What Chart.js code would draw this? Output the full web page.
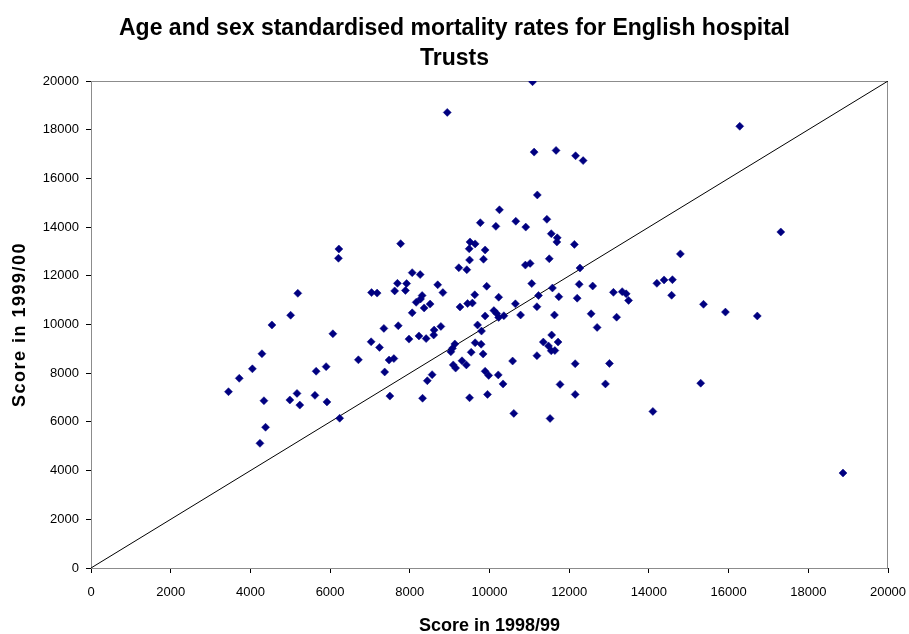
<!DOCTYPE html>
<html>
<head>
<meta charset="utf-8">
<script src="https://cdn.jsdelivr.net/npm/chart.js@4/dist/chart.umd.min.js"></script>
<style>
  body { margin: 0; background: #fff; }
  #wrap { width: 909px; height: 634px; }
</style>
</head>
<body>
<div id="wrap"><canvas id="mortality" width="909" height="634"></canvas></div>
<script>
// scores, one entry per Trust
var score9899 = [
  11080, 8940, 16280, 11120, 11670, 12160, 12350, 11200, 10250, 9770,
  10160, 10660, 10910, 11440, 7770, 9510, 9640, 9490, 9890, 9850,
  9500, 11550, 11700, 11690, 12130, 11500, 10900, 11020, 9230, 9430,
  12270, 8060, 8260, 7690, 7920, 7620, 7890, 7040, 7180, 8700,
  8830, 9930, 11060, 12250, 12590, 11580, 11230, 11740, 12200, 9630,
  10230, 8310, 8270, 8160, 8510, 8360, 8060, 9260, 9450, 9570,
  10650, 11190, 10110, 10180, 10230, 10360, 9890, 10780, 11630, 12550,
  13190, 13110, 13330, 13430, 13490, 14200, 14380, 14590, 14570, 14790,
  15370, 15920, 16720, 17310, 7350, 7710, 8610, 8780, 9700, 9800,
  12700, 6220, 6210, 5190, 5010, 4540, 6070, 7030, 7240, 6710,
  4290, 4050, 3720, 3450, 5900, 5650, 5170, 4990, 5240, 5620,
  5920, 4340, 6240, 4380, 4240, 7980, 8230, 8410, 8600, 7480,
  7600, 7370, 7500, 8320, 8440, 8560, 9030, 9070, 9130, 9090,
  9150, 9310, 9420, 9540, 9640, 9790, 9840, 9890, 9980, 10220,
  10340, 9500, 9950, 10580, 10610, 11190, 11350, 11560, 11480, 11550,
  11640, 11720, 11770, 11520, 12150, 12150, 13010, 12910, 14100, 15300,
  18870
];
var score9900 = [
  19970, 18710, 18140, 17080, 17150, 16930, 16730, 15320, 14710, 14180,
  14030, 14240, 14000, 14320, 13320, 13390, 13310, 13110, 13060, 12680,
  12650, 13730, 13560, 13390, 13290, 12700, 12440, 12510, 12330, 12250,
  12320, 12130, 12050, 11690, 11680, 11380, 11400, 11310, 11290, 11630,
  11310, 11570, 11680, 11650, 11580, 11500, 11190, 11140, 11080, 11220,
  11120, 11190, 11050, 10910, 10840, 10680, 10480, 10720, 10860, 10880,
  10850, 10730, 10570, 10450, 10290, 10360, 10350, 10390, 10390, 10440,
  10300, 11320, 11350, 11260, 10990, 11690, 11830, 11840, 11200, 12900,
  10830, 10510, 10350, 13800, 9840, 9950, 9770, 9920, 9980, 9730,
  9880, 13100, 12720, 11280, 10380, 9980, 9620, 9290, 9060, 8550,
  8800, 8180, 7790, 7240, 8270, 8080, 7170, 6900, 6690, 7090,
  6820, 6870, 6150, 5780, 5120, 9400, 9530, 9420, 9570, 8540,
  8600, 8050, 7060, 6970, 7690, 7940, 8880, 9020, 9200, 8340,
  8210, 8510, 8340, 8860, 9250, 9190, 8790, 8080, 7910, 7930,
  7560, 6990, 7130, 8500, 6350, 8720, 9280, 9570, 9120, 8920,
  8930, 9280, 7540, 6140, 8390, 7130, 8400, 7560, 6430, 7590,
  3900
];
// the y = x reference line
var equalX = [0, 20000];
var equalY = [0, 20000];

var axisMin = 0, axisMax = 20000, axisStep = 2000;

var titleLines = ['Age and sex standardised mortality rates for English hospital', 'Trusts'];
var xTitle = 'Score in 1998/99';
var yTitle = 'Score in 1999/00';

function makePoints(xs, ys){
  var pts = [];
  for(var i = 0; i < xs.length; i++){
    pts.push({x: xs[i], y: ys[i]});
  }
  return pts;
}

// gray frame round the plot area (top and right show, axes cover the rest)
var plotFrame = {
  id: 'plotFrame',
  beforeDatasetsDraw: function(chart){
    var a = chart.chartArea, ctx = chart.ctx;
    ctx.save();
    ctx.strokeStyle = '#8c8c8c';
    ctx.lineWidth = 1;
    ctx.strokeRect(Math.round(a.left) + 0.5, Math.round(a.top) + 0.5,
                   Math.round(a.right - a.left) - 1, Math.round(a.bottom - a.top));
    ctx.restore();
  }
};

// y title in the original is spaced out a bit
function spaceOutTitle(s){
  if(s._spaced) return;
  s._spaced = true;
  var orig = s.drawTitle;
  s.drawTitle = function(){
    var ctx = this.ctx;
    ctx.save();
    ctx.letterSpacing = '1.5px';
    orig.apply(this, arguments);
    ctx.restore();
  };
}

Chart.defaults.font.family = '"Liberation Sans", Arial, sans-serif';
Chart.defaults.color = '#000';

var tickFont = {size: 13};
var axisTitleFont = {size: 18, weight: 'bold', lineHeight: 1.2};

new Chart(document.getElementById('mortality'), {
  type: 'scatter',
  data: {
    datasets: [
      {
        label: 'Trusts',
        data: makePoints(score9899, score9900),
        pointStyle: 'rectRot',
        pointRadius: 4,
        borderWidth: 0.5,
        backgroundColor: '#000080',
        borderColor: '#000080'
      },
      {
        label: 'y = x',
        data: makePoints(equalX, equalY),
        showLine: true,
        pointRadius: 0,
        borderColor: '#000',
        borderWidth: 1
      }
    ]
  },
  plugins: [plotFrame],
  options: {
    responsive: false,
    animation: false,
    layout: { padding: { left: 0, right: 0, top: 0, bottom: 0 } },
    plugins: {
      legend: { display: false },
      tooltip: { enabled: false },
      title: {
        display: true,
        text: titleLines,
        color: '#000',
        font: { size: 23, weight: 'bold', lineHeight: 1.3 },
        padding: { top: 14, bottom: 7.2 }
      }
    },
    scales: {
      x: {
        type: 'linear',
        min: axisMin,
        max: axisMax,
        afterFit: function(s){ s.height = 66; s.paddingRight = 21; },
        ticks: {
          stepSize: axisStep,
          autoSkip: false,
          maxRotation: 0,
          font: tickFont,
          padding: 12,
          callback: function(v){ return String(v); }
        },
        grid: { drawOnChartArea: false, drawTicks: true, tickLength: 5, color: '#000' },
        border: { display: true, color: '#000', width: 1 },
        title: { display: true, text: xTitle, font: axisTitleFont, padding: { top: 0, bottom: -3 } }
      },
      y: {
        type: 'linear',
        min: axisMin,
        max: axisMax,
        afterFit: function(s){ s.width = 91; spaceOutTitle(s); },
        ticks: {
          stepSize: axisStep,
          autoSkip: false,
          font: tickFont,
          padding: 7,
          callback: function(v){ return String(v); }
        },
        grid: { drawOnChartArea: false, drawTicks: true, tickLength: 5, color: '#000' },
        border: { display: true, color: '#000', width: 1 },
        title: { display: true, text: yTitle, font: axisTitleFont, padding: { top: 9, bottom: 0 } }
      }
    }
  }
});
</script>
</body>
</html>
